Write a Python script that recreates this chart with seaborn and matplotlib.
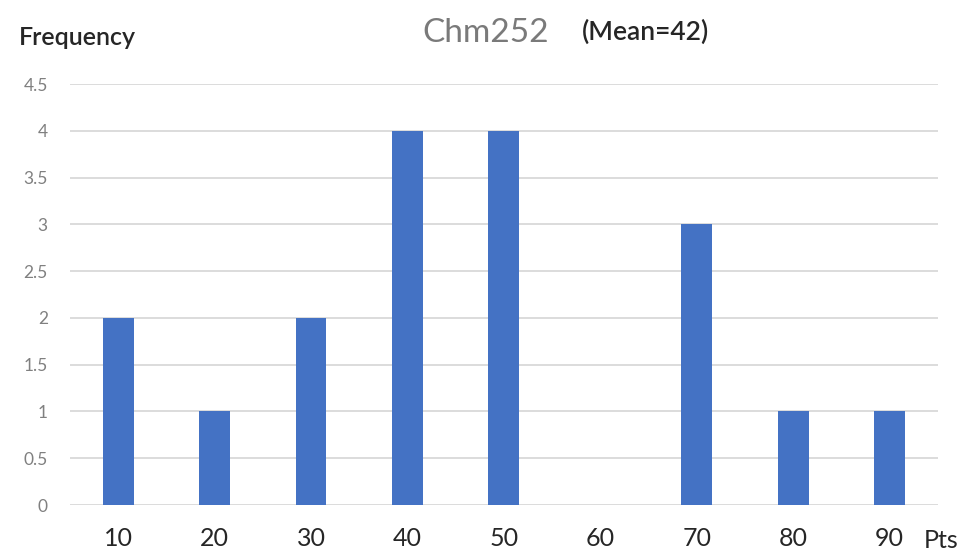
import numpy as np
import matplotlib
matplotlib.use('Agg')
import matplotlib.pyplot as plt
import pandas as pd
import seaborn as sns

# data
points = ['10', '20', '30', '40', '50', '60', '70', '80', '90']
frequency = [2, 1, 2, 4, 4, 0, 3, 1, 1]
y_ticks = [0, 0.5, 1, 1.5, 2, 2.5, 3, 3.5, 4, 4.5]
y_tick_labels = ['0', '0.5', '1', '1.5', '2', '2.5', '3', '3.5', '4', '4.5']

sns.set_theme(style='white')
plt.rcParams['font.family'] = ['Lato', 'DejaVu Sans']

df = pd.DataFrame({'pts': points, 'freq': frequency})

fig = plt.figure(figsize=(9.61, 5.56), dpi=100)
ax = fig.add_axes([0.0728, 0.0917, 0.903, 0.757])

sns.barplot(data=df, x='pts', y='freq', color='#4472C4', saturation=1,
            width=0.32, linewidth=0, ax=ax)

ax.set_xlim(-0.5, len(points) - 0.5)
ax.set_ylim(0, 4.5)
ax.set_yticks(y_ticks)
ax.set_yticklabels(y_tick_labels)
ax.grid(axis='y', color='#D9D9D9', linewidth=1.3)
ax.set_axisbelow(True)
for s in ax.spines.values():
    s.set_visible(False)
ax.set_xlabel('')
ax.set_ylabel('')
ax.tick_params(axis='y', labelsize=12.5, labelcolor='#808080', length=0, pad=16)
ax.tick_params(axis='x', labelsize=18, labelcolor='#262626', length=0, pad=16)

fig.text(0.02, 0.919, 'Frequency', fontsize=18, fontweight='semibold',
         color='#262626', ha='left', va='baseline')
fig.text(0.439, 0.924, 'Chm252', fontsize=24, color='#7a7a7a',
         ha='left', va='baseline')
fig.text(0.605, 0.928, '(Mean=42)', fontsize=19, fontweight='semibold',
         color='#262626', ha='left', va='baseline')
fig.text(0.997, 0.0144, 'Pts', fontsize=18, color='#262626',
         ha='right', va='baseline')

fig.savefig('out.png', dpi=100)
